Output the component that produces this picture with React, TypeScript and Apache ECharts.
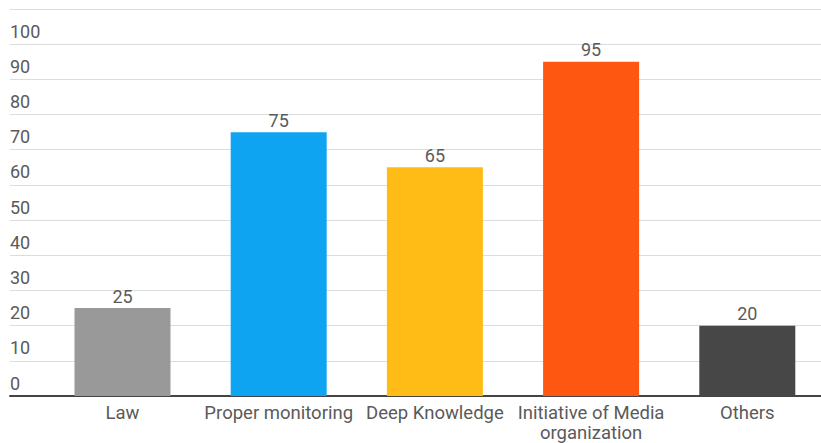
import React, { useEffect, useRef } from "react";
import * as echarts from "echarts";

const categories = [
  "Law",
  "Proper monitoring",
  "Deep Knowledge",
  "Initiative of Media\norganization",
  "Others",
];
const values = [25, 75, 65, 95, 20];
const barColors = ["#999999", "#0fa4f2", "#ffbb16", "#fd5712", "#474747"];
const yTicks = [0, 10, 20, 30, 40, 50, 60, 70, 80, 90, 100, 110];

const FONT = "Roboto, 'Noto Sans', sans-serif";
const TEXT = "#5a5a5a";

// The plotting area runs a little past the right edge of the visible page,
// so the canvas is wider than the 821px viewport and simply clipped.
const CANVAS_W = 830;
const VIEW_W = 821;

export default function App() {
  const ref = useRef<HTMLDivElement>(null);

  useEffect(() => {
    if (!ref.current) return;
    const chart = echarts.init(ref.current, undefined, { renderer: "svg" });
    const yMax = yTicks[yTicks.length - 1];
    chart.setOption({
      animation: false,
      backgroundColor: "#ffffff",
      grid: [
        // full-width background grid: gridlines, tick labels, baseline
        { left: 10, right: CANVAS_W - VIEW_W, top: 9, bottom: 47 },
        // plotting grid for the bars
        { left: 44.4, width: 781, top: 9, bottom: 47 },
      ],
      xAxis: [
        {
          gridIndex: 0,
          type: "value",
          min: 0,
          max: 1,
          axisLine: { show: true, lineStyle: { color: "#444444", width: 2 } },
          axisTick: { show: false },
          axisLabel: { show: false },
          splitLine: { show: false },
        },
        {
          gridIndex: 1,
          type: "category",
          data: categories,
          axisLine: { show: false },
          axisTick: { show: false },
          axisLabel: {
            interval: 0,
            margin: 7,
            color: TEXT,
            fontFamily: FONT,
            fontSize: 18.5,
            lineHeight: 20,
          },
        },
      ],
      yAxis: [
        {
          gridIndex: 0,
          type: "value",
          min: 0,
          max: yMax,
          interval: 10,
          axisLine: { show: false },
          axisTick: { show: false },
          splitLine: { show: true, lineStyle: { color: "#dcdcdc", width: 1 } },
          axisLabel: {
            inside: true,
            margin: 0,
            color: TEXT,
            fontFamily: FONT,
            fontSize: 18,
            lineHeight: 18,
            verticalAlign: "bottom",
            padding: [0, 0, 4, 0],
            formatter: (v: number) => (v >= yMax ? "" : String(v)),
          },
        },
        {
          gridIndex: 1,
          type: "value",
          min: 0,
          max: yMax,
          interval: 10,
          show: false,
        },
      ],
      series: [
        {
          type: "bar",
          xAxisIndex: 1,
          yAxisIndex: 1,
          barWidth: 96,
          data: values.map((v, i) => ({ value: v, itemStyle: { color: barColors[i] } })),
          label: {
            show: true,
            position: "top",
            distance: 3,
            color: TEXT,
            fontFamily: FONT,
            fontSize: 18,
            lineHeight: 18,
          },
        },
      ],
    });
    return () => chart.dispose();
  }, []);

  return (
    <div
      ref={ref}
      style={{ position: "fixed", left: 0, top: 0, width: CANVAS_W, height: 443 }}
    />
  );
}
